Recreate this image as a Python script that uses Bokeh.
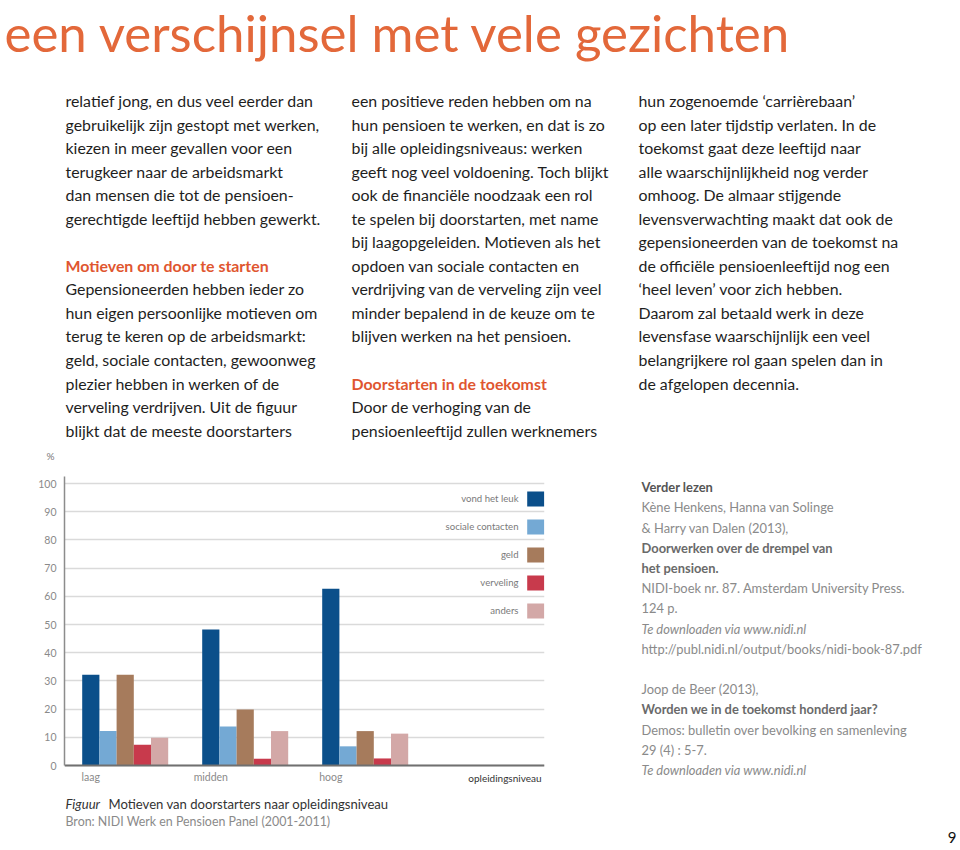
from bokeh.plotting import figure
from bokeh.layouts import column, row
from bokeh.models import Range1d, FixedTicker, Title
from bokeh.core.properties import value
from bokeh.embed import file_html
from bokeh.resources import INLINE

# ---------------- data ----------------
levels = ["laag", "midden", "hoog"]
series = ["vond het leuk", "sociale contacten", "geld", "verveling", "anders"]
vond_het_leuk = [32.2, 48.2, 62.7]
sociale_contacten = [12.2, 13.8, 6.8]
geld = [32.2, 19.9, 12.2]
verveling = [7.4, 2.4, 2.5]
anders = [9.8, 12.2, 11.3]
values_by_series = [vond_het_leuk, sociale_contacten, geld, verveling, anders]
colors = ["#0b4f8a", "#74a9d4", "#a67b5c", "#c83a4c", "#d3a8a7"]
y_ticks = [0, 10, 20, 30, 40, 50, 60, 70, 80, 90, 100]
x_axis_title = "opleidingsniveau"
y_axis_title = "%"

title_text = "een verschijnsel met vele gezichten"
col1 = [
    ("relatief jong, en dus veel eerder dan", "body"),
    ("gebruikelijk zijn gestopt met werken,", "body"),
    ("kiezen in meer gevallen voor een", "body"),
    ("terugkeer naar de arbeidsmarkt", "body"),
    ("dan mensen die tot de pensioen-", "body"),
    ("gerechtigde leeftijd hebben gewerkt.", "body"),
    ("", "body"),
    ("Motieven om door te starten", "head"),
    ("Gepensioneerden hebben ieder zo", "body"),
    ("hun eigen persoonlijke motieven om", "body"),
    ("terug te keren op de arbeidsmarkt:", "body"),
    ("geld, sociale contacten, gewoonweg", "body"),
    ("plezier hebben in werken  of  de", "body"),
    ("verveling verdrijven. Uit  de figuur", "body"),
    ("blijkt dat de meeste doorstarters", "body"),
]
col2 = [
    ("een positieve reden  hebben om na", "body"),
    ("hun pensioen te werken, en dat is zo", "body"),
    ("bij alle opleidingsniveaus: werken", "body"),
    ("geeft nog veel voldoening. Toch blijkt", "body"),
    ("ook de financiële noodzaak een rol", "body"),
    ("te spelen bij doorstarten, met name", "body"),
    ("bij laagopgeleiden. Motieven als het", "body"),
    ("opdoen van sociale contacten en", "body"),
    ("verdrijving van de verveling zijn veel", "body"),
    ("minder bepalend in de keuze om te", "body"),
    ("blijven werken na het pensioen.", "body"),
    ("", "body"),
    ("Doorstarten in de toekomst", "head"),
    ("Door de verhoging van de", "body"),
    ("pensioenleeftijd zullen werknemers", "body"),
]
col3 = [
    ("hun zogenoemde \u2018carrièrebaan\u2019", "body"),
    ("op een later tijdstip verlaten. In de", "body"),
    ("toekomst gaat deze leeftijd naar", "body"),
    ("alle waarschijnlijkheid nog verder", "body"),
    ("omhoog.  De almaar stijgende", "body"),
    ("levensverwachting maakt dat ook de", "body"),
    ("gepensioneerden van de toekomst na", "body"),
    ("de officiële pensioenleeftijd nog een", "body"),
    ("\u2018heel leven\u2019 voor zich hebben.", "body"),
    ("Daarom zal betaald werk in deze", "body"),
    ("levensfase waarschijnlijk een veel", "body"),
    ("belangrijkere rol gaan spelen dan in", "body"),
    ("de afgelopen decennia.", "body"),
]
refs = [
    ("Verder lezen", "title"),
    ("Kène Henkens, Hanna van Solinge", "normal"),
    ("& Harry van Dalen (2013),", "normal"),
    ("Doorwerken over de drempel van", "bold"),
    ("het pensioen.", "bold"),
    ("NIDI-boek nr. 87. Amsterdam University Press.", "normal"),
    ("124 p.", "normal"),
    ("Te downloaden via www.nidi.nl", "italic"),
    ("http://publ.nidi.nl/output/books/nidi-book-87.pdf", "normal"),
    ("", "normal"),
    ("Joop de Beer (2013),", "normal"),
    ("Worden we in de toekomst honderd jaar?", "bold"),
    ("Demos: bulletin over bevolking en samenleving", "normal"),
    ("29 (4) : 5-7.", "normal"),
    ("Te downloaden via www.nidi.nl", "italic"),
]
caption_label = "Figuur"
caption_text = "Motieven van doorstarters naar opleidingsniveau"
source_text = "Bron: NIDI Werk en Pensioen Panel (2001-2011)"
page_number = "9"

# ---------------- styles / geometry (page pixels) ----------------
FONT = "Lato"
ORANGE = "#e3683a"
HEAD = "#df5630"
BODY = "#1e1e1e"
GRAY = "#8a8a8a"
W_TOTAL, H_TOTAL = 960, 850
TOP_H = 462
ROW_H = H_TOTAL - TOP_H
CHART_W = 628
REFS_W = W_TOTAL - CHART_W
FR_L, FR_R, FR_T, FR_B = 64, 544, 476, 829   # chart frame in page px
ZERO_Y = 765                                  # page y of value 0
PPU = 2.82                                    # px per percent
GX0, GPX = 90.3, 120.0                        # page x of group 0, px per group
BASE = 0.38                                   # alphabetic baseline correction (em)


def fs(px):
    return "%.1fpx" % px


def put_lines(f, lines, x, b0, dy, size, styles, **kw):
    for i, (txt, kind) in enumerate(lines):
        if not txt:
            continue
        color, fstyle = styles[kind]
        f.text(x=[x], y=[b0 + i * dy - BASE * size], text=[txt],
               text_font=value(FONT), text_font_size=fs(size),
               text_color=color, text_font_style=fstyle,
               text_baseline="alphabetic", text_align="left", **kw)


# ---------------- top: title + text columns ----------------
top = figure(width=W_TOTAL, height=TOP_H, x_range=Range1d(0, W_TOTAL),
             y_range=Range1d(TOP_H, 0), output_backend="svg",
             toolbar_location=None, min_border=0,
             x_axis_location=None, y_axis_location=None)
top.grid.visible = False
top.outline_line_color = None
T_SIZE = 51
top.text(x=[4], y=[51.5 - BASE * T_SIZE], text=[title_text], text_font=value(FONT),
         text_font_size=fs(T_SIZE), text_color=ORANGE, text_baseline="alphabetic")
body_styles = {"body": (BODY, "normal"), "head": (HEAD, "bold")}
B_SIZE = 15.9
put_lines(top, col1, 65, 106, 23.55, B_SIZE, body_styles)
put_lines(top, col2, 351, 106, 23.55, B_SIZE, body_styles)
put_lines(top, col3, 638, 106, 23.55, B_SIZE, body_styles)
top.text(x=[50], y=[459 - BASE * 10], text=[y_axis_title], text_font=value(FONT),
         text_font_size="10px", text_color="#777777", text_baseline="alphabetic",
         text_align="center")

# ---------------- chart ----------------
BW = 17.2 / GPX
p = figure(width=CHART_W, height=ROW_H,
           x_range=Range1d((FR_L - GX0) / GPX, (FR_R - GX0) / GPX),
           y_range=Range1d(-(FR_B - ZERO_Y) / PPU, (ZERO_Y - FR_T) / PPU),
           output_backend="svg", toolbar_location=None,
           min_border_left=FR_L, min_border_right=CHART_W - FR_R,
           min_border_top=FR_T - TOP_H, min_border_bottom=H_TOTAL - FR_B)
p.extra_x_ranges = {"page": Range1d(FR_L, FR_R)}
p.extra_y_ranges = {"page": Range1d(FR_B, FR_T)}
p.outline_line_color = None
p.xgrid.visible = False
p.ygrid.ticker = FixedTicker(ticks=y_ticks)
p.ygrid.grid_line_color = "#dadada"
p.ygrid.grid_line_width = 1.5

for si, vals in enumerate(values_by_series):
    xs = [g + si * BW for g in range(len(levels))]
    p.vbar(x=xs, top=vals, width=BW, fill_color=colors[si], line_color=None)

# legend: label to the left of its swatch
L_SIZE = 9.6
for si, name in enumerate(series):
    yc = 498.5 + 28 * si
    p.rect(x=[535.2], y=[yc], width=17, height=15, fill_color=colors[si],
           line_color=None, x_range_name="page", y_range_name="page")
    p.text(x=[518], y=[yc + 3.4 - BASE * L_SIZE], text=[name], text_font=value(FONT),
           text_font_size=fs(L_SIZE), text_color="#7a7a7a", text_align="right",
           text_baseline="alphabetic", x_range_name="page", y_range_name="page")

p.text(x=[541], y=[781 - BASE * 10], text=[x_axis_title], text_font=value(FONT),
       text_font_size="10px", text_color="#333333", text_align="right",
       text_baseline="alphabetic", x_range_name="page", y_range_name="page")

# caption + source (inside the chart canvas, below the axis)
C_SIZE = 13.1
p.text(x=[65], y=[808 - BASE * C_SIZE], text=[caption_label], text_font=value(FONT),
       text_font_size=fs(C_SIZE), text_color="#333333", text_font_style="italic",
       text_baseline="alphabetic", x_range_name="page", y_range_name="page")
p.text(x=[108], y=[808 - BASE * C_SIZE], text=[caption_text], text_font=value(FONT),
       text_font_size=fs(C_SIZE), text_color="#333333",
       text_baseline="alphabetic", x_range_name="page", y_range_name="page")
p.text(x=[65], y=[826 - BASE * 12.4], text=[source_text], text_font=value(FONT),
       text_font_size="12.4px", text_color=GRAY,
       text_baseline="alphabetic", x_range_name="page", y_range_name="page")

ya = p.yaxis[0]
ya.ticker = FixedTicker(ticks=y_ticks)
ya.bounds = (0, (ZERO_Y - FR_T) / PPU)
ya.axis_line_color = "#8c8c8c"
ya.axis_line_width = 1.5
ya.major_tick_line_color = None
ya.minor_tick_line_color = None
ya.major_tick_out = 0
ya.major_tick_in = 0
ya.major_label_text_color = "#8a8a8a"
ya.major_label_text_font = FONT
ya.major_label_text_font_size = "10.5px"
ya.major_label_standoff = 8

xa = p.xaxis[0]
xa.fixed_location = 0
xa.ticker = FixedTicker(ticks=list(range(len(levels))))
xa.major_label_overrides = {i: name for i, name in enumerate(levels)}
xa.axis_line_color = "#707070"
xa.axis_line_width = 2
xa.major_tick_line_color = None
xa.minor_tick_line_color = None
xa.major_tick_out = 0
xa.major_tick_in = 0
xa.major_label_text_color = "#8a8a8a"
xa.major_label_text_font = FONT
xa.major_label_text_font_size = "10.5px"
xa.major_label_standoff = 5

# ---------------- references ----------------
rf = figure(width=REFS_W, height=ROW_H, x_range=Range1d(CHART_W, W_TOTAL),
            y_range=Range1d(FR_B, FR_T), output_backend="svg",
            toolbar_location=None, min_border_left=0, min_border_right=0,
            min_border_top=FR_T - TOP_H, min_border_bottom=H_TOTAL - FR_B,
            x_axis_location=None, y_axis_location=None)
rf.grid.visible = False
rf.outline_line_color = None
ref_styles = {"title": ("#555555", "bold"), "normal": (GRAY, "normal"),
              "bold": ("#6a6a6a", "bold"), "italic": (GRAY, "italic")}
put_lines(rf, refs, 641, 491.7, 20.2, 12.9, ref_styles)
rf.add_layout(Title(text=page_number, align="right", vertical_align="bottom",
                    standoff=0, offset=4, text_font=FONT, text_font_size="15px",
                    text_font_style="normal", text_color="#111111"), "below")

layout = column(top, row(p, rf))
open("out.html", "w").write(file_html(layout, INLINE))
